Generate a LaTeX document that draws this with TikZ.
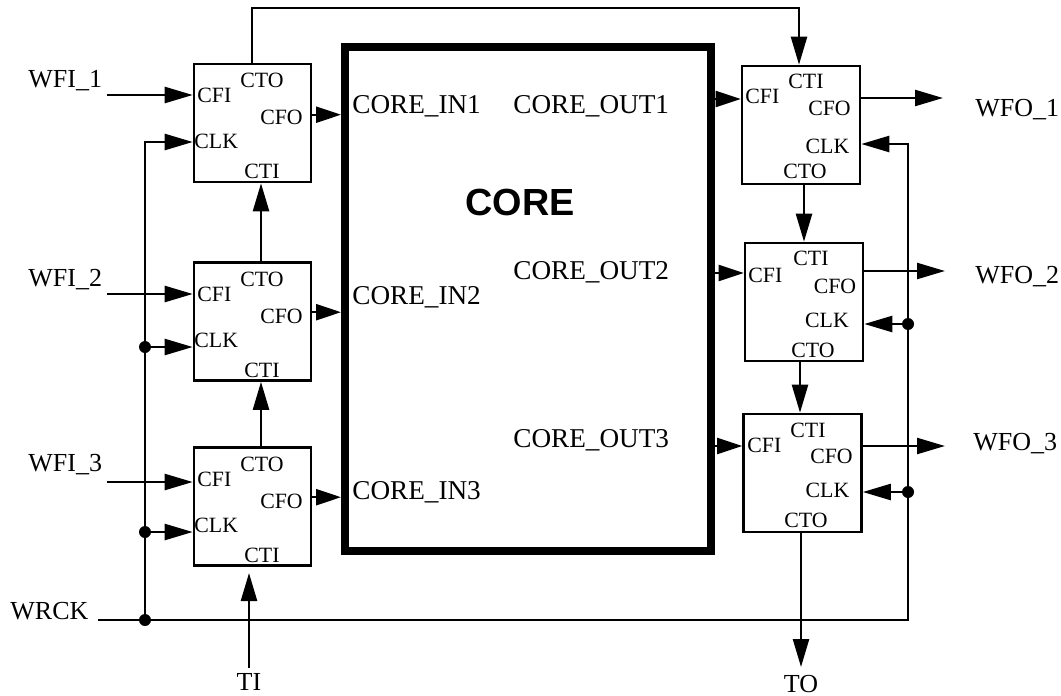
\documentclass[tikz,border=0pt]{standalone}
\usepackage{fontspec}
\setmainfont{Liberation Serif}
\newfontfamily\coresans{Liberation Sans}
\usetikzlibrary{arrows.meta,calc}
\tikzset{
  wire/.style={line width=1.2pt},
  arr/.style={line width=1.2pt,-{Triangle[length=14pt,width=8pt]}},
  arrs/.style={line width=1.2pt,-{Triangle[length=12.5pt,width=8pt]}},
  box/.style={draw,line width=1.3pt,minimum width=58.5pt,minimum height=59pt,inner sep=0pt},
  corebox/.style={draw,line width=4pt,minimum width=183pt,minimum height=252pt,inner sep=0pt},
  pl/.style={font=\fontsize{10.9}{12}\selectfont,inner sep=0pt,anchor=base},
  plw/.style={pl,anchor=base west},
  big/.style={font=\fontsize{13}{15}\selectfont,inner sep=0pt,anchor=base west},
  bigc/.style={font=\fontsize{13}{15}\selectfont,inner sep=0pt,anchor=base},
  cl/.style={font=\fontsize{13.6}{15}\selectfont,inner sep=0pt,anchor=base west},
  dot/.style={circle,fill,inner sep=0pt,minimum size=6pt}
}
\begin{document}
\begin{tikzpicture}[x=0.5pt,y=-0.5pt]
\useasboundingbox (0,0) rectangle (1061,696);
% core
\node[corebox] (core) at (528,299) {};
\node[font=\coresans\bfseries\fontsize{18.9}{20}\selectfont,inner sep=0pt,anchor=base] (coret) at (520,215) {CORE};
\node[cl] (ci1) at (352,113) {CORE\_IN1};
\node[cl] (ci2) at (352,304) {CORE\_IN2};
\node[cl] (ci3) at (352,499) {CORE\_IN3};
\node[cl] (co1) at (513,113) {CORE\_OUT1};
\node[cl] (co2) at (513,279) {CORE\_OUT2};
\node[cl] (co3) at (513,447) {CORE\_OUT3};
% left boxes
\node[box] (L1) at (252.5,123) {};
\node[box] (L2) at (252.5,321.5) {};
\node[box] (L3) at (252.5,506.5) {};
\foreach \b/\t in {L1/64,L2/263,L3/448}{
  \node[pl] (\b cto) at (262,\t+23) {CTO};
  \node[plw] (\b cfi) at (197,\t+38) {CFI};
  \node[pl] (\b cfo) at (281.5,\t+60) {CFO};
  \node[plw] (\b clk) at (194,\t+84) {CLK};
  \node[pl] (\b cti) at (262,\t+114) {CTI};
}
% right boxes
\node[box,minimum width=59pt] (R1) at (801,125) {};
\node[box,minimum width=59pt] (R2) at (804,302) {};
\node[box,minimum width=59pt] (R3) at (802.5,473) {};
\node[pl] (R1cti) at (806,88) {CTI};
\node[plw] (R1cfi) at (745,103) {CFI};
\node[pl] (R1cfo) at (829.5,115) {CFO};
\node[pl] (R1clk) at (827.5,153) {CLK};
\node[pl] (R1cto) at (805,178) {CTO};
\node[pl] (R2cti) at (811,265) {CTI};
\node[plw] (R2cfi) at (748,282) {CFI};
\node[pl] (R2cfo) at (835,293) {CFO};
\node[pl] (R2clk) at (827,327) {CLK};
\node[pl] (R2cto) at (813,357) {CTO};
\node[pl] (R3cti) at (808,437) {CTI};
\node[plw] (R3cfi) at (747,452) {CFI};
\node[pl] (R3cfo) at (831.5,463) {CFO};
\node[pl] (R3clk) at (827.5,497) {CLK};
\node[pl] (R3cto) at (806,527) {CTO};
% outside labels
\node[big] (wfi1) at (28,87) {WFI\_1};
\node[big] (wfi2) at (28,286) {WFI\_2};
\node[big] (wfi3) at (28,471) {WFI\_3};
\node[big] (wrck) at (10,619) {WRCK};
\node[bigc] (ti) at (249,690) {TI};
\node[bigc] (to) at (801,692) {TO};
\node[big] (wfo1) at (975,116) {WFO\_1};
\node[big] (wfo2) at (975,283) {WFO\_2};
\node[big] (wfo3) at (973,450) {WFO\_3};
% coordinates
\coordinate (i1) at (107,95);
\coordinate (i2) at (107,294);
\coordinate (i3) at (107,482);
\coordinate (o1) at (943,98);
\coordinate (o2) at (945,271);
\coordinate (o3) at (945,446);
\coordinate (L1o) at ($(L1.north east)+(0,52)$);
\coordinate (L2o) at ($(L2.north east)+(0,51)$);
\coordinate (L3o) at ($(L3.north east)+(0,51)$);
\coordinate (R1i) at (0,99);
\coordinate (R2i) at (0,273);
\coordinate (R3i) at (0,446);
\coordinate (t1) at (252,8);
\coordinate (t2) at (799,8);
\coordinate (xl) at (261,0);
\coordinate (xr1) at (804,0);
\coordinate (xr2) at (800,0);
\coordinate (tis) at (249,668);
\coordinate (tie) at (249,573);
\coordinate (toe) at (801,667);
\coordinate (wr) at (98,620);
\coordinate (dL) at (145,620);
\coordinate (dR) at (908,620);
\coordinate (cL1) at (145,142);
\coordinate (cL2) at (145,347);
\coordinate (cL3) at (145,532);
\coordinate (cR1) at (908,144);
\coordinate (cR2) at (908,324);
\coordinate (cR3) at (908,492);
% WFI inputs
\draw[arr] (i1) -- (i1 -| L1.west);
\draw[arr] (i2) -- (i2 -| L2.west);
\draw[arr] (i3) -- (i3 -| L3.west);
% CFO to core
\draw[arrs] (L1o) -- (L1o -| core.west);
\draw[arrs] (L2o) -- (L2o -| core.west);
\draw[arrs] (L3o) -- (L3o -| core.west);
% core to right CFI
\draw[arrs] (R1i -| core.east) -- (R1i -| R1.west);
\draw[arrs] (R2i -| core.east) -- (R2i -| R2.west);
\draw[arrs] (R3i -| core.east) -- (R3i -| R3.west);
% WFO outputs
\draw[arr] (o1 -| R1.east) -- (o1);
\draw[arr] (o2 -| R2.east) -- (o2);
\draw[arr] (o3 -| R3.east) -- (o3);
% test chain
\draw[arr] (L1.north -| t1) -- (t1) -- (t2) -- (t2 |- R1.north);
\draw[arr] (L3.north -| xl) -- (L2.south -| xl);
\draw[arr] (L2.north -| xl) -- (L1.south -| xl);
\draw[arr] (R1.south -| xr1) -- (R2.north -| xr1);
\draw[arr] (R2.south -| xr2) -- (R3.north -| xr2);
\draw[arr] (tis) -- (tie);
\draw[arr] (R3.south -| toe) -- (toe);
% clock
\draw[arr] (wr) -- (dR) -- (cR1) -- (cR1 -| R1.east);
\draw[arr] (cR2) -- (cR2 -| R2.east);
\draw[arr] (cR3) -- (cR3 -| R3.east);
\draw[arr] (dL) -- (cL1) -- (cL1 -| L1.west);
\draw[arr] (cL2) -- (cL2 -| L2.west);
\draw[arr] (cL3) -- (cL3 -| L3.west);
\node[dot] at (dL) {};
\node[dot] at (cL2) {};
\node[dot] at (cL3) {};
\node[dot] at (cR2) {};
\node[dot] at (cR3) {};
\end{tikzpicture}
\end{document}
